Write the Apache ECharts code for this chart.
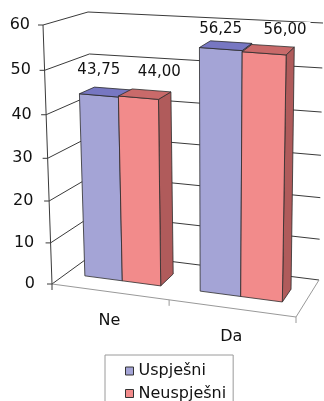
<!DOCTYPE html>
<html>
<head>
<meta charset="utf-8">
<script src="https://cdn.jsdelivr.net/npm/echarts@6/dist/echarts.min.js"></script>
<style>
  html, body { margin: 0; padding: 0; background: #ffffff; }
  #chart { width: 324px; height: 401px; }
</style>
</head>
<body>
<div id="chart"></div>
<script>
// ---- data ----
const categories = ['Ne', 'Da'];
const uspjesni = [43.75, 56.25];
const neuspjesni = [44.00, 56.00];
const valueTicks = [0, 10, 20, 30, 40, 50, 60];
const seriesNames = ['Uspješni', 'Neuspješni'];

// ---- layout ----
const GRID = { left: 52, top: 25, width: 244, height: 259 };
// screen corners of the 3D plot box: f/b = front/back, l/r = left/right, b/t = bottom/top
const BOX = {
  flb: [52, 284], flt: [43, 25], frb: [296, 317], frt: [302, 45],
  blb: [96, 252], blt: [88, 12], brb: [319, 280], brt: [323, 23]
};
const PERSP_U = -0.077;   // foreshortening across the categories
const PERSP_T = -0.057;   // foreshortening up the value axis
const BAR_DEPTH = [0.33, 0.68];
const FONT = '"DejaVu Sans", Verdana, sans-serif';
const WALL_LINE = '#3a3a3a';
const FLOOR_LINE = '#999999';
const EDGE = '#2b2b2b';
const COLORS = [
  { front: '#A4A4D6', top: '#7777C2', side: '#8484BE' },
  { front: '#F28B8B', top: '#C96A6A', side: '#B05B5B' }
];
// value label offset from the top front edge of each bar
const LABEL_DX = [0, 21];
const LABEL_DY = [-25, -26];
const LABEL_RISE = [25, 15];

function warp(s, c) { return s * (1 + c) / (1 + c * s); }
function lerp(a, b, s) { return [a[0] + (b[0] - a[0]) * s, a[1] + (b[1] - a[1]) * s]; }
// normalised box position (u across, t up, d into the depth) -> screen point
function project(u, t, d) {
  const uw = warp(u, PERSP_U), tw = warp(t, PERSP_T);
  const front = lerp(lerp(BOX.flb, BOX.frb, uw), lerp(BOX.flt, BOX.frt, uw), tw);
  const back = lerp(lerp(BOX.blb, BOX.brb, uw), lerp(BOX.blt, BOX.brt, uw), tw);
  return lerp(front, back, d);
}
function normaliser(cs) {
  return {
    u: px => (px - cs.x) / cs.width,
    t: py => (cs.y + cs.height - py) / cs.height
  };
}
function fmt(v) { return v.toFixed(2).replace('.', ','); }

// value-axis labels follow the slanted front edge of the left wall
const yMax = valueTicks[valueTicks.length - 1];
const yRich = {};
valueTicks.forEach(v => {
  const t = v / yMax;
  const p = project(0, t, 0);
  const linearY = GRID.top + GRID.height * (1 - t);
  const dy = p[1] - linearY;
  const right = p[0] - (17 - 4 * t);
  const pr = Math.max(0, (GRID.left - 17) - right);
  yRich['v' + v] = { padding: [Math.max(0, 2 * dy), pr, Math.max(0, -2 * dy), 0],
    fontFamily: FONT, fontSize: 16, color: '#111' };
});

// category labels sit below the slanted floor edge
const X_MARGIN = 20;
const xRich = {};
categories.forEach((c, i) => {
  const uc = (i + 0.5) / categories.length;
  const p = project(uc, 0, 0);
  const rawX = GRID.left + GRID.width * uc;
  const dx = p[0] - rawX;
  const lift = p[1] + 28.5 - (GRID.top + GRID.height + X_MARGIN + 8.5);
  xRich['c' + i] = { padding: [Math.max(0, 2 * lift), Math.max(0, -2 * dx), 0, Math.max(0, 2 * dx)],
    fontFamily: FONT, fontSize: 16, lineHeight: 18, color: '#111' };
});

function renderWall(params, api) {
  const n = normaliser(params.coordSys);
  const t = n.t(api.coord([0, api.value(1)])[1]);
  const a = project(0, t, 0), b = project(0, t, 1), c = project(1, t, 1);
  return {
    type: 'group',
    children: [
      { type: 'polyline', shape: { points: [a, b, c] },
        style: { stroke: WALL_LINE, lineWidth: 1, fill: null } },
      { type: 'line', shape: { x1: a[0] - 5, y1: a[1], x2: a[0], y2: a[1] },
        style: { stroke: WALL_LINE, lineWidth: 1 } }
    ]
  };
}

function renderFloor(params, api) {
  const n = normaliser(params.coordSys);
  const i = api.value(0);
  const c = api.coord([i, 0]);
  const half = api.size([1, 0])[0] / 2;
  const uL = n.u(c[0] - half), uR = n.u(c[0] + half);
  const pL = project(uL, 0, 0), pR = project(uR, 0, 0);
  const children = [
    { type: 'line', shape: { x1: pL[0], y1: pL[1], x2: pR[0], y2: pR[1] },
      style: { stroke: FLOOR_LINE, lineWidth: 1 } },
    { type: 'line', shape: { x1: pL[0], y1: pL[1], x2: pL[0], y2: pL[1] + 6 },
      style: { stroke: i === 0 ? WALL_LINE : FLOOR_LINE, lineWidth: 1 } }
  ];
  if (i === 0) {
    const top = project(0, n.t(api.coord([0, yMax])[1]), 0);
    children.push({ type: 'line', shape: { x1: top[0], y1: top[1], x2: pL[0], y2: pL[1] },
      style: { stroke: WALL_LINE, lineWidth: 1 } });
  }
  if (i === categories.length - 1) {
    const back = project(uR, 0, 1);
    children.push(
      { type: 'line', shape: { x1: pR[0], y1: pR[1], x2: back[0], y2: back[1] },
        style: { stroke: FLOOR_LINE, lineWidth: 1 } },
      { type: 'line', shape: { x1: pR[0], y1: pR[1], x2: pR[0], y2: pR[1] + 6 },
        style: { stroke: FLOOR_LINE, lineWidth: 1 } }
    );
  }
  return { type: 'group', children: children };
}

function barRenderer(k) {
  const col = COLORS[k];
  return function (params, api) {
    const n = normaliser(params.coordSys);
    const idx = api.value(0), val = api.value(1);
    const base = api.coord([idx, 0]);
    const top = api.coord([idx, val]);
    const w = api.size([1, 0])[0] / 3;
    const x0 = base[0] + (k - 1) * w;
    const u0 = n.u(x0), u1 = n.u(x0 + w);
    const t1 = n.t(top[1]);
    const d0 = BAR_DEPTH[0], d1 = BAR_DEPTH[1];
    const front = [project(u0, 0, d0), project(u1, 0, d0), project(u1, t1, d0), project(u0, t1, d0)];
    const lid = [project(u0, t1, d0), project(u1, t1, d0), project(u1, t1, d1), project(u0, t1, d1)];
    const side = [project(u1, 0, d0), project(u1, 0, d1), project(u1, t1, d1), project(u1, t1, d0)];
    const anchor = project((u0 + u1) / 2, t1, d0);
    const lift = LABEL_DY[k] + LABEL_RISE[k] * (t1 - 0.73);
    const stroke = { stroke: EDGE, lineWidth: 0.8, lineJoin: 'round' };
    return {
      type: 'group',
      children: [
        { type: 'polygon', shape: { points: side }, style: Object.assign({ fill: col.side }, stroke) },
        { type: 'polygon', shape: { points: front }, style: Object.assign({ fill: col.front }, stroke) },
        { type: 'polygon', shape: { points: lid }, style: Object.assign({ fill: col.top }, stroke) },
        { type: 'text', x: anchor[0] + LABEL_DX[k], y: anchor[1] + lift,
          style: { text: fmt(val), fontFamily: FONT, fontSize: 15, fill: '#111',
            align: 'center', verticalAlign: 'middle',
            backgroundColor: '#ffffff', padding: [1, 4] } }
      ]
    };
  };
}

const chart = echarts.init(document.getElementById('chart'), null, { renderer: 'canvas' });
chart.setOption({
  animation: false,
  backgroundColor: '#ffffff',
  grid: { left: GRID.left, top: GRID.top, width: GRID.width, height: GRID.height },
  xAxis: {
    type: 'category',
    data: categories,
    axisLine: { show: false },
    axisTick: { show: false },
    splitLine: { show: false },
    axisLabel: {
      margin: X_MARGIN,
      formatter: (v) => '{c' + categories.indexOf(v) + '|' + v + '}',
      rich: xRich
    }
  },
  yAxis: {
    type: 'value',
    min: 0, max: yMax, interval: 10,
    axisLine: { show: false },
    axisTick: { show: false },
    splitLine: { show: false },
    axisLabel: {
      margin: 17,
      formatter: (v) => '{v' + v + '|' + v + '}',
      rich: yRich
    }
  },
  legend: {
    data: seriesNames,
    orient: 'vertical',
    left: 105, top: 355, height: 60,
    padding: [7, 7, 12, 20],
    itemGap: 4.5, itemWidth: 8, itemHeight: 8,
    icon: 'rect',
    borderColor: '#9a9a9a', borderWidth: 1,
    itemStyle: { borderColor: '#333333', borderWidth: 1 },
    textStyle: { fontFamily: FONT, fontSize: 16, lineHeight: 18, color: '#111' },
    selectedMode: false
  },
  series: [
    { type: 'custom', name: 'walls', silent: true, renderItem: renderWall,
      data: valueTicks.map(v => [0, v]), z: 1 },
    { type: 'custom', name: 'floor', silent: true, renderItem: renderFloor,
      data: categories.map((c, i) => [i, 0]), z: 1 },
    { type: 'custom', name: seriesNames[0], renderItem: barRenderer(0),
      itemStyle: { color: COLORS[0].front },
      data: uspjesni.map((v, i) => [i, v]), z: 2 },
    { type: 'custom', name: seriesNames[1], renderItem: barRenderer(1),
      itemStyle: { color: COLORS[1].front },
      data: neuspjesni.map((v, i) => [i, v]), z: 3 }
  ]
});
</script>
</body>
</html>
